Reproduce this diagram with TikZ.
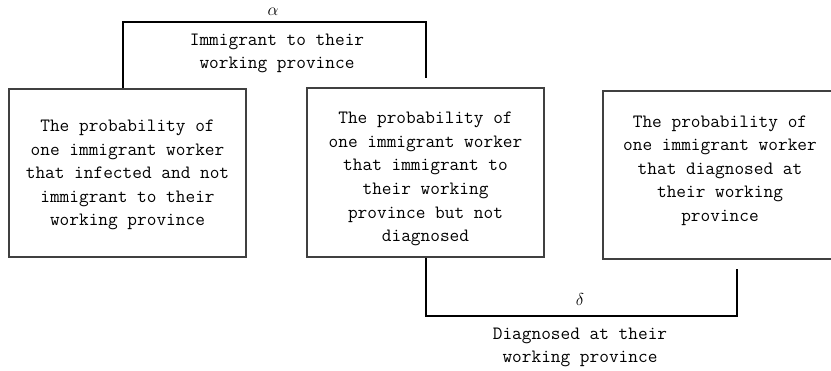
\documentclass[tikz,border=0pt]{standalone}
\usepackage{fontspec}
\tikzset{
  box/.style={draw=black!75,line width=1.4pt,minimum width=237pt,minimum height=168pt,inner sep=0pt},
  boxtext/.style={align=center,inner sep=0pt,font=\ttfamily\fontsize{18.8}{23.6}\selectfont},
  link/.style={draw=black,line width=2pt},
  greek/.style={inner sep=0pt,font=\fontsize{18}{20}\selectfont}
}
\begin{document}
\begin{tikzpicture}[x=1pt,y=-1pt]
\useasboundingbox (0,0) rectangle (831,371);
\clip (0,0) rectangle (831,371);
\node[box] (p1) at (127.5,173) {};
\node[boxtext] (t1) at (127.5,175) {The probability of\\one immigrant worker\\that infected and not\\immigrant to their\\working province};

\node[box,minimum height=169pt] (p2) at (425.5,172.5) {};
\node[boxtext] (t2) at (425.5,179) {The probability of\\one immigrant worker\\that immigrant to\\their working\\province but not\\diagnosed};

% right side runs off the page
\node[box,minimum width=247pt] (p3) at (726.5,175) {};
\node[boxtext] (t3) at (720,170.5) {The probability of\\one immigrant worker\\that diagnosed at\\their working\\province};

% alpha: not immigrant -> immigrant
\coordinate (aEnd) at ([yshift=9pt]p2.north);
\draw[link] ([xshift=-4.5pt]p1.north) -- ++(0,-66) -| (aEnd);
\node[greek] (alpha) at (273,12) {$\alpha$};
\node[boxtext] (lblA) at (277,53.5) {Immigrant to their\\working province};

% delta: immigrant -> diagnosed
\coordinate (dEnd) at (737,269);
\draw[link] (p2.south) -- ++(0,58) -| (dEnd);
\node[greek] (delta) at (580,300) {$\delta$};
\node[boxtext] (lblD) at (580,347.5) {Diagnosed at their\\working province};
\end{tikzpicture}
\end{document}
